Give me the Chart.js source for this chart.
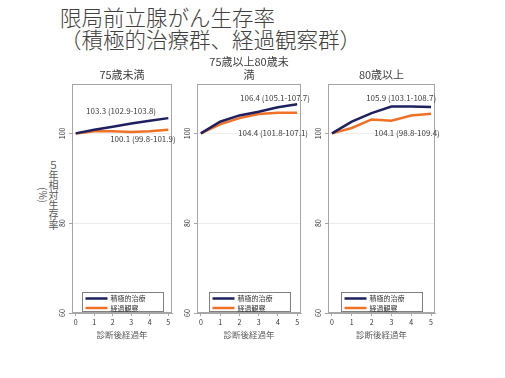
<!DOCTYPE html>
<html lang="ja">
<head>
<meta charset="utf-8">
<script src="https://cdn.jsdelivr.net/npm/chart.js@4.4.0/dist/chart.umd.min.js"></script>
<style>
html, body { margin: 0; padding: 0; background: #fff; }
body { width: 505px; height: 378px; position: relative; overflow: hidden; font-family: "Noto Sans CJK JP", sans-serif; }
#title { position: absolute; left: 60px; top: 6px; font-size: 21.5px; line-height: 22px; color: #404040; font-weight: 300; white-space: nowrap; }
#ylab { position: absolute; left: 38px; top: 155px; width: 20px; height: 80px; writing-mode: vertical-rl; text-align: center; font-size: 10px; line-height: 10px; color: #595959; }
.panel { position: absolute; top: 50px; }
</style>
</head>
<body>
<div id="title">限局前立腺がん生存率<br>（積極的治療群、経過観察群）</div>
<div id="ylab">５年相対生存率<br>(%)</div>
<div class="panel" id="p0"><canvas id="c0"></canvas></div>
<div class="panel" id="p1"><canvas id="c1"></canvas></div>
<div class="panel" id="p2"><canvas id="c2"></canvas></div>
<script>
'use strict';

// ─── données ────────────────────────────────────────────────────────────────
var years = [0, 1, 2, 3, 4, 5];
var xTicks = [0, 1, 2, 3, 4, 5];
var yTicks = [60, 80, 100];
var seriesNames = ['積極的治療', '経過観察'];
var panelTitles = [['75歳未満'], ['75歳以上80歳未', '満'], ['80歳以上']];

var activeU75 = [100, 100.8, 101.5, 102.2, 102.8, 103.4];
var watchU75 = [100, 100.5, 100.5, 100.3, 100.5, 100.8];
var active7580 = [100, 102.6, 104.0, 104.8, 105.8, 106.5];
var watch7580 = [100, 102.0, 103.4, 104.3, 104.6, 104.6];
var active80 = [100, 102.6, 104.5, 106.0, 106.0, 105.9];
var watch80 = [100, 101.2, 103.1, 102.8, 104.0, 104.4];

var activeNotes = ['103.3 (102.9-103.8)', '106.4 (105.1-107.7)', '105.9 (103.1-108.7)'];
var watchNotes = ['100.1 (99.8-101.9)', '104.4 (101.8-107.1)', '104.1 (98.8-109.4)'];

var COLORS = { navy: '#1e2060', orange: '#f07125', axis: '#a6a6a6', grid: '#ececec', text: '#404040' };
var FONT = '"Noto Sans CJK JP", sans-serif';

// position / taille de chaque panneau (zone de tracé)
var panels = [
    { left: 72, width: 100, active: activeU75, watch: watchU75, noteA: [2.45, 105.1], noteW: [3.63, 98.7] },
    { left: 197, width: 104, active: active7580, watch: watch7580, noteA: [3.85, 107.8], noteW: [3.75, 100.2] },
    { left: 328, width: 107, active: active80, watch: watch80, noteA: [3.49, 107.8], noteW: [3.79, 100.2] }
];

function toPoints(values) {
    return years.map(function(x, i) { return { x: x, y: values[i] }; });
}

// cadre, titres, annotations et légende dans la zone
var panelDeco = {
    id: 'panelDeco',
    afterDraw: function(chart) {
        var o = chart.options.plugins.panelDeco;
        var ctx = chart.ctx, a = chart.chartArea;
        var xs = chart.scales.x, ys = chart.scales.y;
        ctx.save();

        ctx.strokeStyle = COLORS.axis;
        ctx.lineWidth = 1;
        ctx.strokeRect(a.left + 0.5, a.top + 0.5, a.right - a.left - 1, a.bottom - a.top - 1);

        ctx.fillStyle = COLORS.text;
        ctx.textAlign = 'center';
        ctx.textBaseline = 'middle';
        ctx.font = '11px ' + FONT;
        var cx = (a.left + a.right) / 2;
        o.title.forEach(function(line, i, arr) {
            ctx.fillText(line, cx, a.top - 9 - (arr.length - 1 - i) * 13);
        });

        ctx.font = '8px ' + FONT;
        o.notes.forEach(function(n) {
            ctx.fillText(n.text, xs.getPixelForValue(n.at[0]), ys.getPixelForValue(n.at[1]));
        });

        // légende
        var bw = 81, bh = 19;
        var bx = Math.round(cx - bw / 2) + 0.5, by = a.bottom - bh - 1.5;
        ctx.fillStyle = '#fff';
        ctx.fillRect(bx, by, bw, bh);
        ctx.strokeStyle = '#808080';
        ctx.strokeRect(bx, by, bw, bh);
        ctx.font = '7px ' + FONT;
        ctx.textAlign = 'left';
        chart.data.datasets.forEach(function(ds, i) {
            var ly = by + 6 + i * 9.5;
            ctx.strokeStyle = ds.borderColor;
            ctx.lineWidth = 2.5;
            ctx.beginPath();
            ctx.moveTo(bx + 3, ly);
            ctx.lineTo(bx + 25, ly);
            ctx.stroke();
            ctx.fillStyle = '#333';
            ctx.fillText(ds.label, bx + 28, ly);
        });
        ctx.restore();
    }
};

panels.forEach(function(p, k) {
    var canvas = document.getElementById('c' + k);
    var div = document.getElementById('p' + k);
    var rightPad = 16;
    div.style.left = (p.left - 20) + 'px';
    canvas.width = 20 + p.width + rightPad;
    canvas.height = 290;

    new Chart(canvas, {
        type: 'line',
        data: {
            datasets: [
                { label: seriesNames[0], data: toPoints(p.active), borderColor: COLORS.navy, borderWidth: 2.5, pointRadius: 0, tension: 0 },
                { label: seriesNames[1], data: toPoints(p.watch), borderColor: COLORS.orange, borderWidth: 2.5, pointRadius: 0, tension: 0 }
            ]
        },
        options: {
            responsive: false,
            animation: false,
            layout: { padding: { top: 34, right: rightPad, left: 0, bottom: 0 } },
            plugins: {
                legend: { display: false },
                tooltip: { enabled: false },
                panelDeco: {
                    title: panelTitles[k],
                    notes: [
                        { text: activeNotes[k], at: p.noteA },
                        { text: watchNotes[k], at: p.noteW }
                    ]
                }
            },
            scales: {
                x: {
                    type: 'linear',
                    min: -0.2,
                    max: 5.2,
                    afterBuildTicks: function(s) { s.ticks = xTicks.map(function(v) { return { value: v }; }); },
                    afterFit: function(s) { s.height = 27; },
                    grid: { drawOnChartArea: false, tickLength: 3, color: COLORS.axis },
                    border: { color: COLORS.axis },
                    ticks: { font: { size: 7, family: FONT }, color: '#333', padding: 2, maxRotation: 0 },
                    title: { display: true, text: '診断後経過年', font: { size: 8.5, family: FONT }, color: '#595959', padding: 0 }
                },
                y: {
                    min: 60,
                    max: 111,
                    afterBuildTicks: function(s) { s.ticks = yTicks.map(function(v) { return { value: v }; }); },
                    afterFit: function(s) { s.width = 20; },
                    grid: { color: COLORS.grid, tickLength: 3, tickColor: COLORS.axis },
                    border: { color: COLORS.axis },
                    ticks: { font: { size: 7, family: FONT }, color: '#333', minRotation: 90, maxRotation: 90, padding: 1, crossAlign: 'center' }
                }
            }
        },
        plugins: [panelDeco]
    });
});
</script>
</body>
</html>
